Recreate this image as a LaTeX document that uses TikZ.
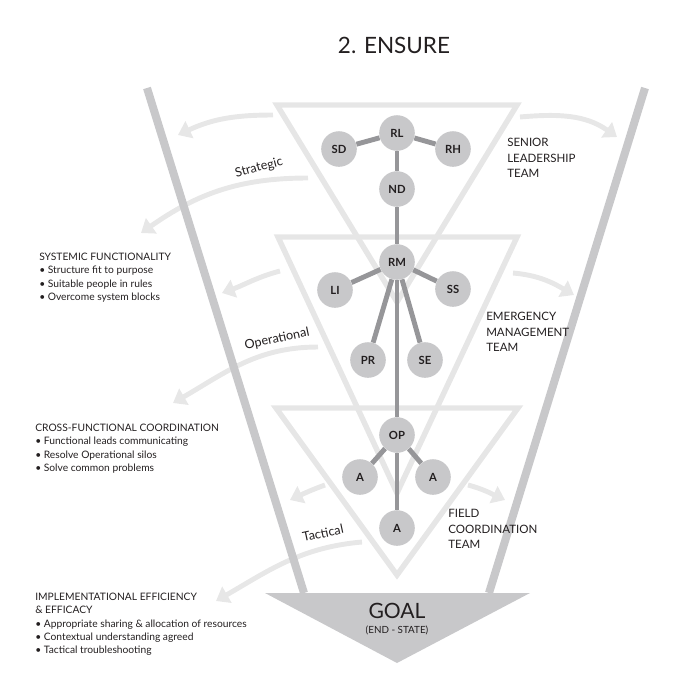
\documentclass[tikz,border=0pt]{standalone}
\usepackage{fontspec}
\setmainfont{Lato}
\usetikzlibrary{arrows.meta}
\usepackage{xcolor}

\definecolor{rimgray}{RGB}{200,200,202}
\definecolor{tiergray}{RGB}{230,230,230}
\definecolor{flowgray}{RGB}{231,231,231}
\definecolor{edgegray}{RGB}{150,150,153}
\definecolor{nodegray}{RGB}{200,200,202}
\definecolor{inkgray}{RGB}{35,31,32}

\begin{document}
\begin{tikzpicture}[
    x=0.025cm, y=-0.025cm,
    member/.style={circle, fill=nodegray, minimum size=0.89cm, inner sep=0pt, font=\fontsize{8}{9}\selectfont\bfseries, text=inkgray},
    link/.style={line width=3.5pt, draw=edgegray},
    flow/.style={line width=3.5pt, draw=flowgray, -{Triangle[width=13pt, length=9pt]}},
    tier/.style={line width=3.9pt, draw=tiergray},
    rim/.style={line width=5.7pt, draw=rimgray},
    team/.style={anchor=north west, inner sep=0pt, align=left, font=\fontsize{8.2}{11}\selectfont, text=inkgray},
    blurb/.style={anchor=north west, inner sep=0pt, align=left, font=\fontsize{7.3}{9.4}\selectfont, text=inkgray},
    tierlabel/.style={inner sep=0pt, font=\fontsize{9}{10}\selectfont, text=inkgray},
]

\useasboundingbox (0,0) rectangle (680,680);

\coordinate (sa1) at (273,115); \coordinate (sb1) at (178,135);
\coordinate (sa2) at (308,178); \coordinate (sb2) at (141,233);
\coordinate (sa3) at (520,117); \coordinate (sb3) at (617,137);
\coordinate (oa1) at (280,271); \coordinate (ob1) at (222,293);
\coordinate (oa2) at (318,347); \coordinate (ob2) at (173,403);
\coordinate (oa3) at (513,273); \coordinate (ob3) at (574,295);
\coordinate (ta1) at (325,485); \coordinate (tb1) at (290,500);
\coordinate (ta2) at (362,542); \coordinate (tb2) at (216,601);
\coordinate (ta3) at (468,485); \coordinate (tb3) at (505,500);

\draw[flow] (sa1) to[out=180, in=25] (sb1);
\draw[flow] (sa2) to[out=180, in=35] (sb2);
\draw[flow] (sa3) to[out=5, in=145] (sb3);
\draw[flow] (oa1) to[out=195, in=20] (ob1);
\draw[flow] (oa2) to[out=180, in=30] (ob2);
\draw[flow] (oa3) to[out=-5, in=150] (ob3);
\draw[flow] (ta1) to[out=200, in=25] (tb1);
\draw[flow] (ta2) to[out=185, in=30] (tb2);
\draw[flow] (ta3) to[out=-15, in=155] (tb3);

\draw[tier] (277,105) -- (517,105) -- (397,302) -- cycle;
\draw[tier] (278,237) -- (517,237) -- (397,493) -- cycle;
\draw[tier] (276,408) -- (518,408) -- (397,575) -- cycle;

\draw[rim] (147,88) -- (304,593);
\draw[rim] (645,88) -- (489,593);
\fill[rimgray] (265,593) -- (530,593) -- (397,663) -- cycle;

\node[member] (rl) at (397,133) {RL};
\node[member] (sd) at (339,149) {SD};
\node[member] (rh) at (453,149) {RH};
\node[member] (nd) at (397,189) {ND};
\node[member] (rm) at (397,262) {RM};
\node[member] (li) at (335,290) {LI};
\node[member] (ss) at (453,289) {SS};
\node[member] (pr) at (368,360) {PR};
\node[member] (se) at (425,360) {SE};
\node[member] (op) at (397,435) {OP};
\node[member] (aleft) at (360,477) {A};
\node[member] (aright) at (433,477) {A};
\node[member] (abottom) at (397,528) {A};

\draw[link] (rl) -- (sd);
\draw[link] (rl) -- (rh);
\draw[link] (rl) -- (nd);
\draw[link] (nd) -- (rm);
\draw[link] (rm) -- (li);
\draw[link] (rm) -- (ss);
\draw[link] (rm) -- (pr);
\draw[link] (rm) -- (se);
\draw[link] (rm) -- (op);
\draw[link] (op) -- (aleft);
\draw[link] (op) -- (aright);
\draw[link] (op) -- (abottom);

\node[text=inkgray, font=\fontsize{16}{18}\selectfont] (title) at (394,45) {2. ENSURE};

\node[team] (senior) at (507,138) {SENIOR\\LEADERSHIP\\TEAM};
\node[team] (emergency) at (486,312) {EMERGENCY\\MANAGEMENT\\TEAM};
\node[team] (field) at (448,509) {FIELD\\COORDINATION\\TEAM};

\node[tierlabel, rotate=15] (strategic) at (259,168) {Strategic};
\node[tierlabel, rotate=12] (operational) at (277,339) {Operational};
\node[tierlabel, rotate=12] (tactical) at (323,533) {Tactical};

\node[blurb] (systemic) at (39,253) {SYSTEMIC FUNCTIONALITY\\• Structure fit to purpose\\• Suitable people in rules\\• Overcome system blocks};
\node[blurb] (crossfn) at (35,424) {CROSS-FUNCTIONAL COORDINATION\\• Functional leads communicating\\• Resolve Operational silos\\• Solve common problems};
\node[blurb] (implement) at (35,593) {IMPLEMENTATIONAL EFFICIENCY\\\& EFFICACY\\• Appropriate sharing \& allocation of resources\\• Contextual understanding agreed\\• Tactical troubleshooting};

\node[text=inkgray, inner sep=0pt, font=\fontsize{15}{16}\selectfont] (goal) at (397,611) {GOAL};
\node[text=inkgray, inner sep=0pt, font=\fontsize{7}{8}\selectfont] (endstate) at (397,630) {(END - STATE)};

\end{tikzpicture}
\end{document}
